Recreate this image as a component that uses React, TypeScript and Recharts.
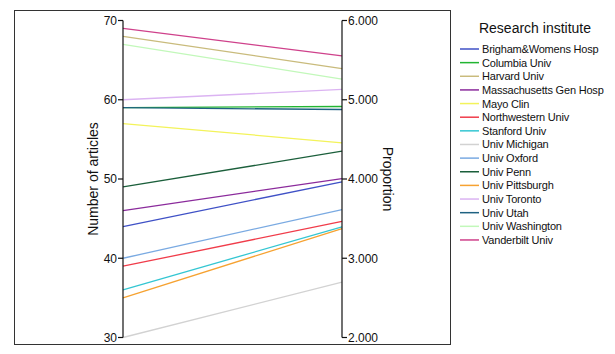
import React from 'react';
import { LineChart, Line, XAxis, YAxis } from 'recharts';

const institutes = [
  'Brigham&Womens Hosp',
  'Columbia Univ',
  'Harvard Univ',
  'Massachusetts Gen Hosp',
  'Mayo Clin',
  'Northwestern Univ',
  'Stanford Univ',
  'Univ Michigan',
  'Univ Oxford',
  'Univ Penn',
  'Univ Pittsburgh',
  'Univ Toronto',
  'Univ Utah',
  'Univ Washington',
  'Vanderbilt Univ',
];

const articles = [44, 59, 68, 46, 57, 39, 36, 30, 40, 49, 35, 60, 59, 67, 69];
const proportion = [3.965, 4.915, 5.394, 4.006, 4.457, 3.464, 3.397, 2.698, 3.615, 4.351, 3.375, 5.13, 4.877, 5.26, 5.554];

const colors = [
  '#3f51c6', '#22b532', '#c9bb7c', '#8b2b9c', '#f3f35a',
  '#f03c4a', '#34c6d2', '#d2d2d2', '#7aaae2', '#1b5f3b',
  '#f6a231', '#dbb3f2', '#1f6282', '#c2f8ba', '#cf418b',
];

const articleTicks = [30, 40, 50, 60, 70];
const proportionTicks = [2, 3, 4, 5, 6];

const FONT = '"Liberation Sans", Arial, sans-serif';

// both axes share the same pixel range, so map proportion onto the article scale
const toLeft = (p: number) => 30 + ((p - 2) / (6 - 2)) * (70 - 30);

const rows = [
  { side: 'articles', ...Object.fromEntries(articles.map((v, i) => [`s${i}`, v])) },
  { side: 'proportion', ...Object.fromEntries(proportion.map((v, i) => [`s${i}`, toLeft(v)])) },
];

const AxisTitle = ({ viewBox, text, dx, angle }: any) => {
  const cx = viewBox.x + dx;
  const cy = viewBox.y + viewBox.height / 2;
  return (
    <text
      x={cx}
      y={cy}
      transform={`rotate(${angle}, ${cx}, ${cy})`}
      textAnchor="middle"
      dominantBaseline="central"
      fontSize={14}
      fontFamily={FONT}
      fill="#111"
    >
      {text}
    </text>
  );
};

const LegendBox = () => (
  <svg width={157} height={240} style={{ position: 'absolute', left: 458, top: 14 }} fontFamily={FONT}>
    <text x={77} y={14} textAnchor="middle" dominantBaseline="central" fontSize={14} fill="#111">
      Research institute
    </text>
    {institutes.map((name, i) => {
      const y = 35 + i * 13.64;
      return (
        <g key={name}>
          <line x1={2} x2={21} y1={y} y2={y} stroke={colors[i]} strokeWidth={1.5} />
          <text x={24} y={y} dominantBaseline="central" fontSize={11} fill="#111" letterSpacing={-0.2}>
            {name}
          </text>
        </g>
      );
    })}
  </svg>
);

export default function App() {
  return (
    <div style={{ position: 'absolute', left: 0, top: 0, width: 615, height: 354, background: '#fff' }}>
      <div
        style={{
          position: 'absolute',
          left: 14,
          top: 10,
          width: 437,
          height: 335,
          border: '1.5px solid #333',
          boxSizing: 'border-box',
        }}
      />
      <LineChart
        width={615}
        height={354}
        data={rows}
        margin={{ top: 20.5, right: 213, left: 63, bottom: 16.5 }}
        style={{ position: 'absolute', left: 0, top: 0 }}
      >
        <XAxis dataKey="side" hide />
        <YAxis
          yAxisId="left"
          width={60}
          domain={[30, 70]}
          ticks={articleTicks}
          interval={0}
          tickSize={5}
          tickMargin={1}
          axisLine={{ stroke: '#111', strokeWidth: 1.2 }}
          tickLine={{ stroke: '#111', strokeWidth: 1.2 }}
          tick={{ fill: '#111', fontSize: 12, fontFamily: FONT }}
          label={(props: any) => <AxisTitle {...props} text="Number of articles" dx={30} angle={-90} />}
        />
        <YAxis
          yAxisId="right"
          orientation="right"
          type="number"
          width={60}
          domain={[2, 6]}
          ticks={proportionTicks}
          interval={0}
          allowDataOverflow
          tickSize={5}
          tickMargin={1}
          tickFormatter={(v: number) => v.toFixed(3)}
          axisLine={{ stroke: '#111', strokeWidth: 1.2 }}
          tickLine={{ stroke: '#111', strokeWidth: 1.2 }}
          tick={{ fill: '#111', fontSize: 12, fontFamily: FONT }}
          label={(props: any) => <AxisTitle {...props} text="Proportion" dx={46} angle={90} />}
        />
        {institutes.map((name, i) => (
          <Line
            key={name}
            yAxisId="left"
            dataKey={`s${i}`}
            name={name}
            stroke={colors[i]}
            strokeWidth={1.3}
            dot={false}
            activeDot={false}
            isAnimationActive={false}
          />
        ))}
      </LineChart>
      <LegendBox />
    </div>
  );
}
